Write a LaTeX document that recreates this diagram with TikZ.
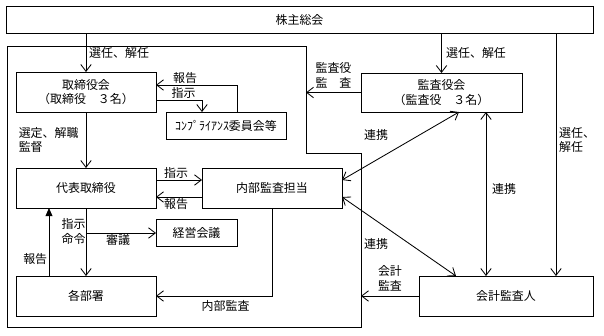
\documentclass[tikz,border=0pt]{standalone}
\usepackage{fontspec}
\setmainfont{Noto Sans CJK JP}
\usetikzlibrary{arrows.meta, positioning}

\begin{document}
\begin{tikzpicture}[
    x=0.025cm, y=-0.025cm,
    line width=0.6pt,
    font=\fontsize{8.5}{10.5}\selectfont,
    box/.style={rectangle, draw=black, line width=0.6pt, inner sep=0pt, outer sep=0pt, minimum height=1cm, minimum width=3.5cm, align=center},
    lbl/.style={inner sep=1pt, align=left},
    arr/.style={-{Straight Barb[length=1.7mm, width=2.6mm]}},
    arrs/.style={{Straight Barb[length=1.7mm, width=2.6mm]}-{Straight Barb[length=1.7mm, width=2.6mm]}},
    arrf/.style={-{Triangle[length=2mm, width=1.7mm]}}
]
    \useasboundingbox (0,0) rectangle (604,335);

    % Shareholders meeting
    \node[box, minimum width=14.675cm, minimum height=0.675cm] (gm) at (299.5,19.5) {株主総会};

    % Company frame
    \draw (7,46) -- (306,46) -- (306,153) -- (361,153) -- (361,327) -- (7,327) -- cycle;

    % Boxes
    \node[box] (bod) at (86,92) {取締役会\\（取締役　３名）};
    \node[box, minimum width=3cm, minimum height=0.675cm] (comp) at (226,125.5) {ｺﾝﾌﾟﾗｲｱﾝｽ委員会等};
    \node[box, minimum width=4.025cm, minimum height=0.975cm] (asb) at (441.5,92.5) {監査役会\\（監査役　３名）};
    \node[box] (rep) at (86,188) {代表取締役};
    \node[box] (ia) at (272,188) {内部監査担当};
    \node[box, minimum width=2.025cm, minimum height=0.675cm] (mgt) at (196.5,233) {経営会議};
    \node[box] (dept) at (86,296) {各部署};
    \node[box, minimum width=4.35cm] (aud) at (506,296) {会計監査人};

    % Free ends
    \coordinate (ga) at (556,33);
    \coordinate (lk) at (486,112);
    \coordinate (fa) at (306,92.5);
    \coordinate (fb) at (361,296);
    \coordinate (br) at (86,233);

    % Shareholders meeting
    \draw[arr] (gm.south -| bod.north) -- (bod.north) node[midway, right, lbl, xshift=1pt] {選任、解任};
    \draw[arr] (gm.south -| asb.north) -- (asb.north) node[midway, right, lbl, xshift=2pt] {選任、解任};
    \draw[arr] (ga) -- (ga |- aud.north) node[pos=0.44, right, lbl, xshift=1pt] {選任、\\解任};

    % Board and compliance
    \draw[arr] ([yshift=-0.2cm]bod.east) -| ([xshift=-0.6cm]comp.north) node[pos=0.3, above, lbl] {指示};
    \draw[arr] ([xshift=0.275cm]comp.north) |- ([yshift=0.175cm]bod.east) node[pos=0.82, above, lbl] {報告};
    \draw[arr] (bod.south) -- (rep.north) node[midway, left, lbl, xshift=-4pt] {選定、解職\\監督};

    % Representative director and internal audit
    \draw[arr] ([yshift=0.2cm]rep.east) -- ([yshift=0.2cm]ia.west) node[midway, above, lbl, xshift=-2pt] {指示};
    \draw[arr] ([yshift=-0.225cm]ia.west) -- ([yshift=-0.225cm]rep.east) node[midway, below, lbl, xshift=-2pt] {報告};
    \draw[arr] (rep.south) -- (dept.north) node[pos=0.34, left, lbl, xshift=1pt] {指示\\命令};
    \draw[arr] (br) -- (mgt.west) node[midway, below, lbl, xshift=-2pt] {審議};
    \draw[arrf] ([xshift=-0.925cm]dept.north) -- ([xshift=-0.925cm]rep.south) node[pos=0.25, left, lbl, xshift=0pt] {報告};
    \draw[arr] (ia.south) |- (dept.east) node[pos=0.7, below, lbl, yshift=-2pt] {内部監査};

    % Auditors
    \draw[arr] (asb.west) -- (fa) node[midway, above, lbl, align=center, yshift=2pt] {監査役\\監　査};
    \draw[arr] (aud.west) -- (fb) node[midway, above, lbl, align=center, yshift=2pt] {会計\\監査};
    \draw[arrs] ([yshift=0.2cm]ia.east) -- ([xshift=0.4375cm]asb.south);
    \draw[arrs] ([yshift=-0.225cm]ia.east) -- ([xshift=-1.25cm]aud.north);
    \draw[arrs] (lk) -- (lk |- aud.north) node[pos=0.47, right, lbl, xshift=3pt] {連携};
    \node[lbl] (lka) at (376,135) {連携};
    \node[lbl] (lkb) at (376,244) {連携};
\end{tikzpicture}
\end{document}
